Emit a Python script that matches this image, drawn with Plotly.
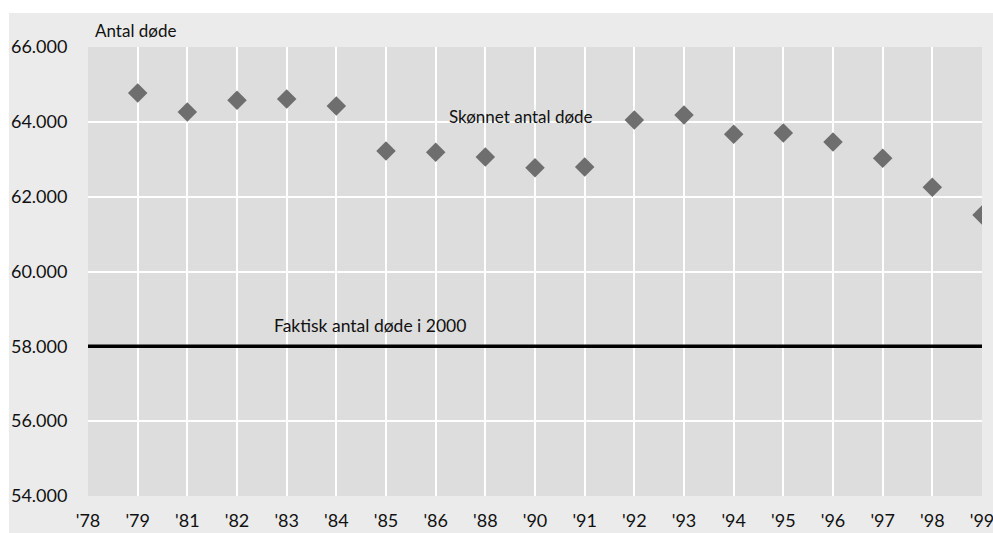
import plotly.graph_objects as go

years = ["'78", "'79", "'81", "'82", "'83", "'84", "'85", "'86", "'88", "'90",
         "'91", "'92", "'93", "'94", "'95", "'96", "'97", "'98", "'99"]
point_years = years[1:]
estimated_deaths = [64770, 64260, 64580, 64610, 64420, 63220, 63190, 63060, 62770,
                    62790, 64050, 64180, 63670, 63700, 63460, 63030, 62250, 61510]
actual_2000 = 58000
y_ticks = [54000, 56000, 58000, 60000, 62000, 64000, 66000]

FONT = "Lato"

fig = go.Figure()
fig.add_trace(go.Scatter(
    x=[years[0], years[-1]], y=[actual_2000, actual_2000], mode="lines",
    line=dict(color="black", width=3.5), hoverinfo="skip", showlegend=False))
fig.add_trace(go.Scatter(
    x=point_years, y=estimated_deaths, mode="markers",
    marker=dict(symbol="diamond", size=15, color="#6e6e6e"),
    showlegend=False))

# white strips top/left outside the gray panel
fig.add_shape(type="rect", xref="paper", yref="paper", x0=-0.2, x1=1.2,
              y0=(496 - 13) / 449, y1=1.3, fillcolor="white", line_width=0, layer="above")
fig.add_shape(type="rect", xref="paper", yref="paper", x0=-0.2, x1=(9 - 88) / 894,
              y0=-0.2, y1=1.3, fillcolor="white", line_width=0, layer="above")

fig.add_annotation(text="Antal døde", xref="paper", yref="paper",
                   x=(93 - 88) / 894, y=(496 - 30) / 449, xanchor="left", yanchor="middle",
                   showarrow=False, font=dict(family=FONT, size=17, color="#111"))
fig.add_annotation(text="Skønnet antal døde", xref="paper", yref="y",
                   x=(447 - 88) / 894, y=64130, xanchor="left", yanchor="middle",
                   showarrow=False, font=dict(family=FONT, size=17, color="#111"))
fig.add_annotation(text="Faktisk antal døde i 2000", xref="paper", yref="y",
                   x=(272 - 88) / 894, y=58570, xanchor="left", yanchor="middle",
                   showarrow=False, font=dict(family=FONT, size=17.5, color="#111"))

fig.update_layout(
    width=993, height=533,
    margin=dict(l=88, r=11, t=47, b=37, autoexpand=False),
    paper_bgcolor="#ebebeb", plot_bgcolor="#dddddd",
    separators=",.",
    font=dict(family=FONT, size=18, color="#111"),
    xaxis=dict(type="category", categoryorder="array", categoryarray=years,
               range=[0, len(years) - 1], showgrid=True, gridcolor="white", gridwidth=2,
               ticks="outside", ticklen=8, tickcolor="rgba(0,0,0,0)", automargin=False,
               zeroline=False, showline=False, tickfont=dict(size=18)),
    yaxis=dict(range=[54000, 66000], tickvals=y_ticks, tickformat=",d",
               showgrid=True, gridcolor="white", gridwidth=2, automargin=False,
               ticks="outside", ticklen=16, tickcolor="rgba(0,0,0,0)",
               zeroline=False, showline=False, tickfont=dict(size=18)),
)

fig.write_html("out.html", config={"displayModeBar": False},
               post_script="document.body.style.margin='0';document.body.style.overflow='hidden';")
